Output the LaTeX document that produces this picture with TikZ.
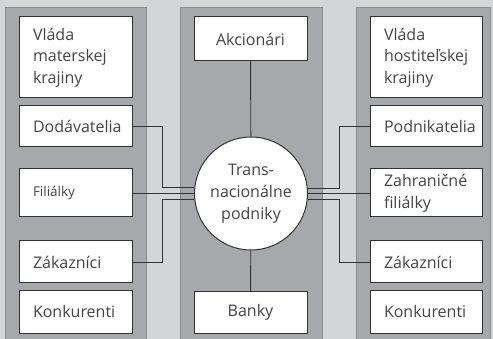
\documentclass[tikz,border=0pt]{standalone}
\usepackage{fontspec}
\setmainfont{Open Sans}
\definecolor{pagebg}{HTML}{D4D5D7}
\definecolor{panelfill}{HTML}{A7A8AB}
\definecolor{panelline}{HTML}{8A8B8E}
\definecolor{inkline}{HTML}{333333}
\definecolor{inktext}{HTML}{454545}
\begin{document}
\begin{tikzpicture}[x=1pt,y=-1pt,
  panel/.style={fill=panelfill,draw=panelline,line width=1pt},
  card/.style={draw=inkline,fill=white,line width=1pt,inner ysep=0pt,
    text=inktext,font=\fontsize{16}{21.7}\selectfont},
  leftcard/.style={card,inner xsep=14pt,text width=85pt,align=left},
  rightcard/.style={card,inner xsep=14pt,text width=84pt,align=left},
  midcard/.style={card,inner xsep=0pt,text width=113pt,align=center},
  hub/.style={circle,draw=inkline,fill=white,line width=1pt,minimum size=113pt,
    inner sep=0pt,align=center,text=inktext,font=\fontsize{16}{22}\selectfont},
  conn/.style={draw=inkline,line width=0.9pt}]
\useasboundingbox (0,0) rectangle (493,339);
\fill[pagebg] (0,0) rectangle (493,339);
\clip (0,0) rectangle (493,339);

% three column panels
\draw[panel] (5,8) rectangle (146,350);
\draw[panel] (180,8) rectangle (322,350);
\draw[panel] (356,8) rectangle (490,350);

% home-country column
\node[leftcard,minimum height=81pt] (vladaM) at (75.5,57.5) {Vláda\\materskej\\krajiny};
\node[leftcard,minimum height=41pt] (dod) at (75.5,126.5) {Dodávatelia};
\node[leftcard,minimum height=48pt,font=\fontsize{13.5}{16}\selectfont] (fil) at (75.5,193) {Filiálky};
\node[leftcard,minimum height=42pt] (zakL) at (75.5,262) {Zákazníci};
\node[leftcard,minimum height=42pt] (konL) at (75.5,312) {Konkurenti};

% centre column
\node[midcard,minimum height=44pt] (akc) at (250.5,39) {Akcionári};
\node[hub] (tnc) at (251,193.5) {Trans-\\nacionálne\\podniky};
\node[midcard,minimum height=41pt] (banky) at (250.5,312.5) {Banky};

% host-country column
\node[rightcard,minimum height=81pt] (vladaH) at (426,57.5) {Vláda\\hostiteľskej\\krajiny};
\node[rightcard,minimum height=41pt] (pod) at (426,126.5) {Podnikatelia};
\node[rightcard,minimum height=48pt] (zfil) at (426,193) {Zahraničné\\filiálky};
\node[rightcard,minimum height=42pt] (zakR) at (426,262) {Zákazníci};
\node[rightcard,minimum height=42pt] (konR) at (426,312) {Konkurenti};

% connectors
\draw[conn] (akc) -- (tnc);
\draw[conn] (tnc) -- (banky);
\draw[conn] (dod.east) -- ++(30,0) |- (tnc.174.4);
\draw[conn] (fil.east) -- (fil.east -| tnc.west);
\draw[conn] (zakL.east) -- ++(30,0) |- (tnc.186.6);
\draw[conn] (pod.west) -- ++(-30,0) |- (tnc.5.6);
\draw[conn] (zfil.west) -- (zfil.west -| tnc.east);
\draw[conn] (zakR.west) -- ++(-30,0) |- (tnc.-6.6);
\end{tikzpicture}
\end{document}
